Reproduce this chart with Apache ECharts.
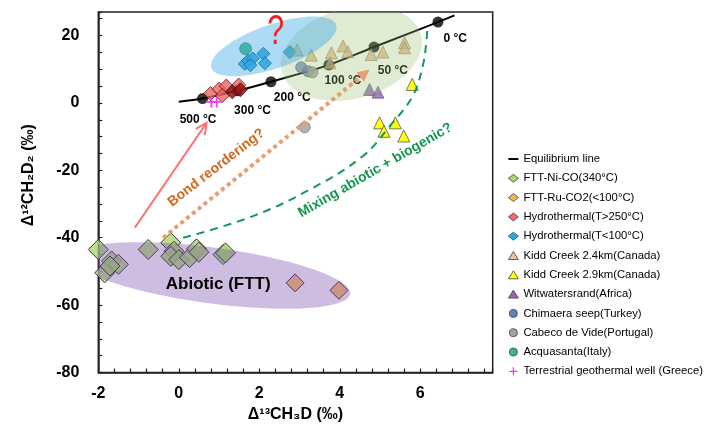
<!DOCTYPE html>
<html><head><meta charset="utf-8">
<script src="https://cdn.jsdelivr.net/npm/echarts@6/dist/echarts.min.js"></script>
<style>html,body{margin:0;padding:0;background:#fff}#chart{width:708px;height:424px}</style>
</head><body><div id="chart"></div>
<script>
// ---------- tick labels ----------
const xTickLabels = [-2, 0, 2, 4, 6];
const yTickLabels = [-80, -60, -40, -20, 0, 20];

// ---------- equilibrium line ----------
const eqLineX = [0, 0.59, 1.45, 2.29, 3.73, 4.85, 6.44, 6.85];
const eqLineY = [0.35, 1.3, 3.6, 6.3, 11.3, 16.6, 24.0, 26.0];
const eqTempX = [0.59, 1.45, 2.29, 3.73, 4.85, 6.44];
const eqTempY = [1.3, 3.6, 6.3, 11.3, 16.6, 24.0];
const eqTempLabels = ['500 °C', '300 °C', '200 °C', '100 °C', '50 °C', '0 °C'];
const eqTempLabelX = [0.48, 1.83, 2.82, 4.08, 5.32, 6.87];
const eqTempLabelY = [-5.1, -2.4, 1.5, 6.5, 9.6, 19.0];

// ---------- sample series ----------
const fttNiX = [-2.0, -1.67, -1.5, -1.84, -1.71, -0.76, -0.2, -0.12, -0.2, 0.0, 0.27, 0.44, 0.5, 1.1, 1.16];
const fttNiY = [-43.5, -46.9, -47.9, -50.4, -48.4, -43.5, -41.5, -44.0, -45.5, -46.5, -45.9, -43.3, -44.3, -45.0, -44.5];
const fttRuX = [2.89, 3.98];
const fttRuY = [-53.4, -55.6];
const hydroHighX = [0.79, 1.0, 1.18, 1.08, 1.49];
const hydroHighY = [2.8, 4.1, 5.0, 2.2, 5.3];
const hydroHighDarkX = [1.33, 1.53];
const hydroHighDarkY = [3.3, 3.9];
const hydroLowX = [1.64, 1.72, 1.84, 1.78, 2.1, 2.14, 2.76];
const hydroLowY = [11.6, 12.6, 13.2, 11.2, 14.6, 11.8, 15.1];
const kidd24X = [2.94, 3.29, 3.79, 4.08, 4.2, 3.76, 4.78, 5.07, 5.61, 5.61];
const kidd24Y = [15.7, 14.2, 14.9, 16.9, 15.2, 11.9, 14.4, 15.1, 17.9, 16.4];
const kidd29X = [5.8, 4.99, 5.1, 5.38, 5.59];
const kidd29Y = [5.5, -5.9, -8.4, -5.9, -9.8];
const witwaX = [4.74, 4.95];
const witwaY = [4.0, 3.2];
const chimaeraX = [3.04, 3.21];
const chimaeraY = [10.6, 9.4];
const cabecoX = [3.32, 3.13];
const cabecoY = [9.1, -7.2];
const acquaX = [1.66];
const acquaY = [16.1];
const greeceX = [0.81, 0.94];
const greeceY = [0.3, 0.3];

// ---------- annotations (data coordinates) ----------
const ellipseCX = [0.82, 4.29, 2.36];
const ellipseCY = [-51.2, 14.7, 16.8];
const ellipseA = [3.47, 1.79, 1.64];   // semi-major, x units
const ellipseB = [8.3, 13.4, 6.5];     // semi-minor, y units
const ellipseTilt = [-7.6, 15, 19];    // degrees, anticlockwise
const ellipseFill = ['rgba(120,72,168,0.36)', 'rgba(150,190,110,0.3)', 'rgba(60,170,230,0.42)'];

const arrowX1 = [-1.09, -0.39];
const arrowY1 = [-37.0, -40.0];
const arrowX2 = [0.69, 4.74];
const arrowY2 = [-5.9, 9.9];

const mixCurveX = [0.11, 1.84, 3.33, 4.57, 5.24, 5.81, 6.06, 6.15, 6.18];
const mixCurveY = [-40, -33.6, -25.2, -15.8, -6.9, 2.0, 10.9, 18.0, 23.0];

const noteTexts = ['?', 'Bond reordering?', 'Mixing abiotic + biogenic?', 'Abiotic (FTT)'];
const noteX = [2.41, 0.93, 4.88, 0.98];
const noteY = [20.9, -19.2, -20.0, -53.9];

// ---------- build ----------
const FONT = '"Liberation Sans", Arial, Helvetica, "DejaVu Sans", sans-serif';
function pairs(xs, ys) { return xs.map((x, i) => [x, ys[i]]); }
const PLUS = 'path://M4.2,0 L5.8,0 L5.8,4.2 L10,4.2 L10,5.8 L5.8,5.8 L5.8,10 L4.2,10 L4.2,5.8 L0,5.8 L0,4.2 L4.2,4.2 Z';
const LINE_ICON = 'path://M0,0 M0,3 L10,3 L10,5 L0,5 Z M10,8';

const markerDefs = [
  {name: 'FTT-Ni-CO(340°C)', x: fttNiX, y: fttNiY, symbol: 'diamond', size: 20, fill: 'rgba(168,218,112,0.82)', legend: '#a8d870', border: '#3b2b4b', bw: 1},
  {name: 'FTT-Ru-CO2(<100°C)', x: fttRuX, y: fttRuY, symbol: 'diamond', size: 18, fill: 'rgba(250,190,95,0.9)', legend: '#f5b845', border: '#3b2b4b', bw: 1},
  {name: 'Hydrothermal(T>250°C)', x: hydroHighX, y: hydroHighY, symbol: 'diamond', size: 14, fill: 'rgba(240,95,95,0.78)', legend: '#f06a6a', border: '#5a1a1a', bw: 0.8},
  {name: 'Hydrothermal(T>250°C)', x: hydroHighDarkX, y: hydroHighDarkY, symbol: 'diamond', size: 14, fill: 'rgba(150,20,20,0.85)', legend: null, border: '#3a0a0a', bw: 0.8},
  {name: 'Hydrothermal(T<100°C)', x: hydroLowX, y: hydroLowY, symbol: 'diamond', size: 13, fill: 'rgba(40,165,225,0.9)', legend: '#2aa8e0', border: '#1a3a5a', bw: 0.8},
  {name: 'Kidd Creek 2.4km(Canada)', x: kidd24X, y: kidd24Y, symbol: 'triangle', size: 12, fill: 'rgba(225,175,125,0.7)', legend: '#efbf97', border: '#8a7a6a', bw: 0.6},
  {name: 'Kidd Creek 2.9km(Canada)', x: kidd29X, y: kidd29Y, symbol: 'triangle', size: 12, fill: 'rgba(255,255,0,0.95)', legend: '#ffff00', border: '#555', bw: 0.8},
  {name: 'Witwatersrand(Africa)', x: witwaX, y: witwaY, symbol: 'triangle', size: 12, fill: 'rgba(148,102,184,0.85)', legend: '#9466b8', border: '#555', bw: 0.6},
  {name: 'Chimaera seep(Turkey)', x: chimaeraX, y: chimaeraY, symbol: 'circle', size: 11, fill: 'rgba(95,128,192,0.75)', legend: '#5f80c0', border: '#556', bw: 0.6},
  {name: 'Cabeco de Vide(Portugal)', x: cabecoX, y: cabecoY, symbol: 'circle', size: 11, fill: 'rgba(165,165,165,0.85)', legend: '#a0a0a0', border: '#555', bw: 0.6},
  {name: 'Acquasanta(Italy)', x: acquaX, y: acquaY, symbol: 'circle', size: 12, fill: 'rgba(50,180,110,0.9)', legend: '#3cb878', border: '#555', bw: 0.6},
  {name: 'Terrestrial geothermal well (Greece)', x: greeceX, y: greeceY, symbol: PLUS, size: 11, fill: '#ff33ff', legend: '#ff33ff', border: null, bw: 0}
];

const series = [];
series.push({
  name: 'Equilibrium line', type: 'line', z: 1, data: pairs(eqLineX, eqLineY),
  smooth: 0.3, symbol: 'none', showSymbol: false, lineStyle: {color: '#000', width: 2}, itemStyle: {color: '#000'}, silent: true
});
series.push({
  name: 'eqPoints', type: 'scatter', z: 2, data: pairs(eqTempX, eqTempY),
  symbol: 'circle', symbolSize: 11, itemStyle: {color: '#000'}, silent: true
});
markerDefs.forEach(d => {
  series.push({
    name: d.name, type: 'scatter', z: 3, data: pairs(d.x, d.y), symbol: d.symbol, symbolSize: d.size,
    itemStyle: {color: d.fill, borderColor: d.border || 'transparent', borderWidth: d.bw, opacity: 1}, silent: true
  });
});
series.push({
  name: 'tempLabels', type: 'custom', z: 4, silent: true,
  data: pairs(eqTempLabelX, eqTempLabelY), encode: {x: 0, y: 1},
  renderItem: function (params, api) {
    const p = api.coord([api.value(0), api.value(1)]);
    return {type: 'text', x: p[0], y: p[1], style: {text: eqTempLabels[params.dataIndex], fill: '#000',
      font: 'bold 12px ' + FONT, align: 'center', verticalAlign: 'middle'}};
  }
});
series.push({
  name: 'ellipses', type: 'custom', z: 5, silent: true, clip: true,
  data: pairs(ellipseCX, ellipseCY), encode: {x: 0, y: 1},
  renderItem: function (params, api) {
    const i = params.dataIndex;
    const c = api.coord([api.value(0), api.value(1)]);
    const sz = api.size([ellipseA[i], ellipseB[i]]);
    const a = sz[0], b = sz[1];
    const t = ellipseTilt[i] * Math.PI / 180;
    const pts = [];
    for (let k = 0; k < 90; k++) {
      const th = k / 90 * 2 * Math.PI;
      const u = a * Math.cos(th), v = b * Math.sin(th);
      pts.push([c[0] + u * Math.cos(t) + v * Math.sin(t), c[1] - u * Math.sin(t) + v * Math.cos(t)]);
    }
    return {type: 'polygon', shape: {points: pts}, style: {fill: ellipseFill[i]}};
  }
});
series.push({
  name: 'mixCurve', type: 'line', z: 6, data: pairs(mixCurveX, mixCurveY), smooth: 0.4, symbol: 'none', silent: true,
  lineStyle: {color: '#15985a', width: 2, type: [8, 6]}
});
const arrowStyles = [
  {color: '#f87676', width: 2, dash: null, head: 11, open: true},
  {color: '#e6a074', width: 4, dash: [4, 3.5], head: 12, open: false}
];
series.push({
  name: 'arrows', type: 'custom', z: 6, silent: true,
  data: arrowX1.map((x, i) => [x, arrowY1[i], arrowX2[i], arrowY2[i]]), encode: {x: [0, 2], y: [1, 3]},
  renderItem: function (params, api) {
    const s = arrowStyles[params.dataIndex];
    const p1 = api.coord([api.value(0), api.value(1)]);
    const p2 = api.coord([api.value(2), api.value(3)]);
    const ang = Math.atan2(p2[1] - p1[1], p2[0] - p1[0]);
    const L = s.head, W = s.head * 0.5;
    const base = [p2[0] - L * Math.cos(ang), p2[1] - L * Math.sin(ang)];
    const left = [base[0] + W * Math.sin(ang), base[1] - W * Math.cos(ang)];
    const right = [base[0] - W * Math.sin(ang), base[1] + W * Math.cos(ang)];
    const end = s.open ? p2 : base;
    const children = [{type: 'line', shape: {x1: p1[0], y1: p1[1], x2: end[0], y2: end[1]},
      style: {stroke: s.color, lineWidth: s.width, lineDash: s.dash, lineCap: 'butt'}}];
    if (s.open) {
      children.push({type: 'polyline', shape: {points: [left, p2, right]}, style: {stroke: s.color, lineWidth: s.width, fill: null}});
    } else {
      children.push({type: 'polygon', shape: {points: [p2, left, right]}, style: {fill: s.color}});
    }
    return {type: 'group', children: children};
  }
});
const noteStyles = [
  {font: '42px ' + FONT, color: '#e8262a', rot: 0, sx: 0.72},
  {font: 'bold 14px ' + FONT, color: '#d2691e', rot: 37.8, sx: 1},
  {font: 'bold 14px ' + FONT, color: '#14964f', rot: 30, sx: 1},
  {font: 'bold 17px ' + FONT, color: '#000', rot: 0, sx: 1}
];
series.push({
  name: 'notes', type: 'custom', z: 7, silent: true,
  data: pairs(noteX, noteY), encode: {x: 0, y: 1},
  renderItem: function (params, api) {
    const s = noteStyles[params.dataIndex];
    const p = api.coord([api.value(0), api.value(1)]);
    return {type: 'text', x: p[0], y: p[1], rotation: s.rot * Math.PI / 180, scaleX: s.sx,
      style: {text: noteTexts[params.dataIndex], fill: s.color, font: s.font, align: 'center', verticalAlign: 'middle'}};
  }
});

const legendData = [{name: 'Equilibrium line', icon: LINE_ICON, itemStyle: {color: '#000', borderWidth: 0}}].concat(markerDefs.filter(d => d.legend).map(d => ({
  name: d.name,
  icon: d.symbol,
  itemStyle: {color: d.legend, borderColor: d.border ? '#404040' : 'transparent', borderWidth: d.border ? 0.8 : 0, opacity: 1}
})));

const axisText = {fontFamily: FONT, fontSize: 16, fontWeight: 'bold', color: '#000'};
const option = {
  animation: false,
  backgroundColor: '#fff',
  grid: {left: 98.3, top: 12, right: 215.3, bottom: 51.5, show: true, borderColor: '#222', borderWidth: 1.5,
    containLabel: false, outerBoundsMode: 'none'},
  legend: {
    orient: 'vertical', left: 503, top: 147.5, itemWidth: 10, itemHeight: 8, itemGap: 6.3, selectedMode: false,
    textStyle: {fontFamily: FONT, fontSize: 11.3, color: '#000', lineHeight: 13},
    data: legendData
  },
  xAxis: {
    type: 'value', min: -2, max: 7.8, interval: 2,
    axisLine: {onZero: false, lineStyle: {color: '#222', width: 1.5}},
    axisTick: {inside: true, length: 4, lineStyle: {color: '#222', width: 1.2}},
    minorTick: {show: true, splitNumber: 5, length: 4, lineStyle: {color: '#222', width: 1.2}},
    splitLine: {show: false}, minorSplitLine: {show: false},
    axisLabel: Object.assign({margin: 13, showMaxLabel: true, formatter: v => xTickLabels.includes(v) ? String(v) : ''}, axisText),
    name: 'Δ¹³CH₃D (‰)', nameLocation: 'middle', nameGap: 33, nameTextStyle: axisText
  },
  yAxis: {
    type: 'value', min: -80, max: 27, interval: 20,
    axisLine: {onZero: false, lineStyle: {color: '#222', width: 1.5}},
    axisTick: {inside: true, length: 4, lineStyle: {color: '#222', width: 1.2}},
    minorTick: {show: true, splitNumber: 4, length: 4, lineStyle: {color: '#222', width: 1.2}},
    splitLine: {show: false}, minorSplitLine: {show: false},
    axisLabel: Object.assign({margin: 19, formatter: v => yTickLabels.includes(v) ? String(v) : ''}, axisText),
    name: 'Δ¹²CH₂D₂ (‰)', nameLocation: 'middle', nameGap: 62,
    nameTextStyle: Object.assign({padding: [0, 0, 0, 34]}, axisText)
  },
  series: series
};
const chart = echarts.init(document.getElementById('chart'));
chart.setOption(option);
</script></body></html>
